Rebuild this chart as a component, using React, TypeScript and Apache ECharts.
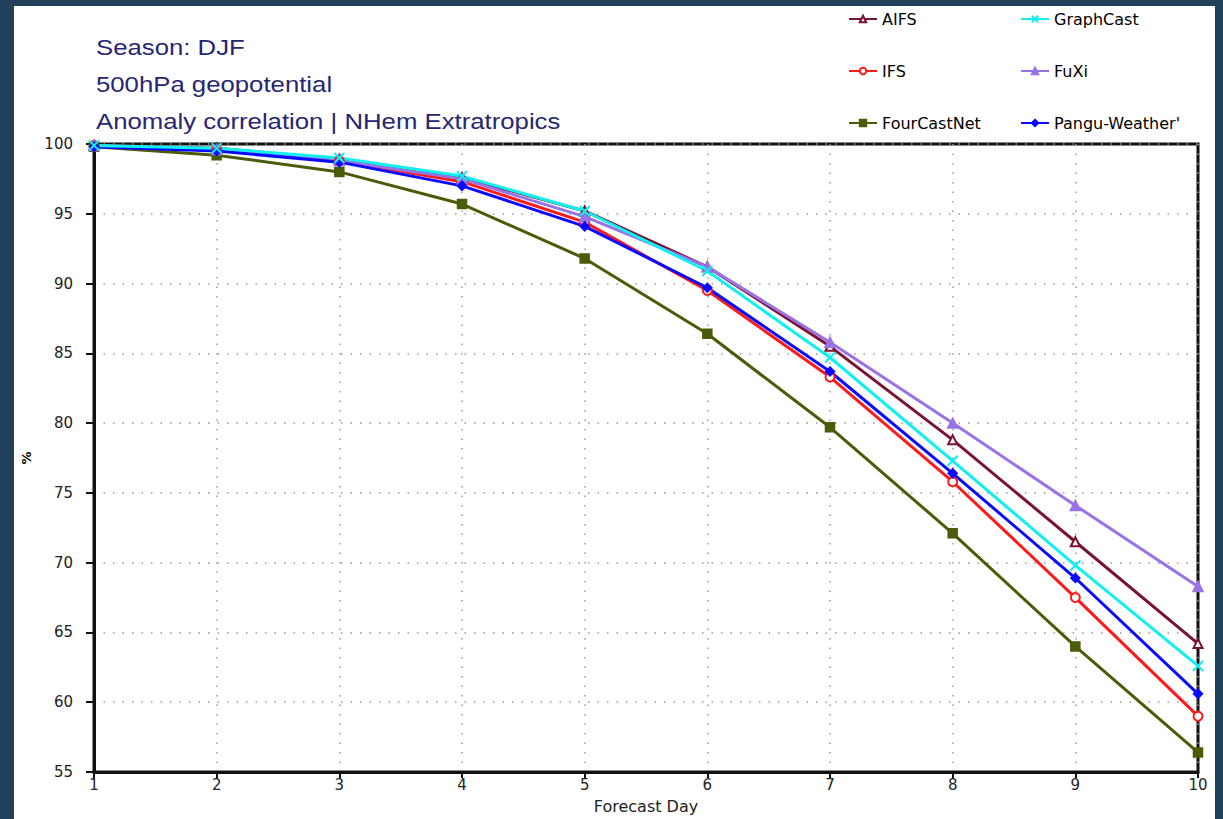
import React, { useEffect, useRef } from "react";
import * as echarts from "echarts";

const days = [1, 2, 3, 4, 5, 6, 7, 8, 9, 10];
const yTicks = [55, 60, 65, 70, 75, 80, 85, 90, 95, 100];
const aifs = [99.9, 99.7, 98.9, 97.6, 95.2, 91.2, 85.5, 78.8, 71.5, 64.2];
const graphCast = [99.9, 99.7, 99.0, 97.7, 95.2, 90.9, 84.7, 77.3, 69.8, 62.6];
const ifs = [99.9, 99.6, 98.8, 97.3, 94.4, 89.5, 83.3, 75.8, 67.5, 59.0];
const fuxi = [99.9, 99.6, 98.8, 97.5, 94.8, 91.2, 85.8, 80.0, 74.1, 68.3];
const fourCastNet = [99.8, 99.2, 98.0, 95.7, 91.8, 86.4, 79.7, 72.1, 64.0, 56.4];
const pangu = [99.8, 99.5, 98.7, 97.0, 94.1, 89.7, 83.7, 76.4, 68.9, 60.6];
const titleLines = ["Season: DJF", "500hPa geopotential", "Anomaly correlation | NHem Extratropics"];

const pair = (vals: number[]) => days.map((d, i) => [d, vals[i]]);

export default function App() {
  const ref = useRef<HTMLDivElement>(null);
  useEffect(() => {
    if (!ref.current) return;
    const chart = echarts.init(ref.current, null, { renderer: "svg" });
    const mk = (name: string, vals: number[], color: string, symbol: string, size: number, extra: any = {}) => ({
      name,
      type: "line",
      data: pair(vals),
      symbol,
      symbolSize: size,
      showSymbol: true,
      lineStyle: { color, width: 3 },
      itemStyle: { color, borderColor: color, borderWidth: 1.5, ...extra },
      emphasis: { disabled: true },
    });
    const legendText = { fontFamily: "DejaVu Sans", fontSize: 16, lineHeight: 16, color: "#000" };
    const legendCommon = {
      orient: "vertical",
      top: 6,
      itemWidth: 28,
      itemHeight: 8,
      itemGap: 36,
      textStyle: legendText,
    };
    chart.setOption({
      animation: false,
      backgroundColor: "transparent",
      graphic: titleLines.map((t, i) => ({
        type: "text",
        x: 96,
        y: 47 + i * 37,
        scaleX: 1.17,
        style: {
          text: t,
          fontFamily: "Liberation Sans",
          fontSize: 22,
          fill: "#262673",
          verticalAlign: "middle",
          align: "left",
        },
      })),
      legend: [
        { ...legendCommon, left: 843, data: ["AIFS", "IFS", "FourCastNet"] },
        { ...legendCommon, left: 1015, data: ["GraphCast", "FuXi", "Pangu-Weather'"] },
      ],
      grid: {
        left: 94,
        top: 144,
        width: 1104,
        height: 628,
        show: true,
        borderColor: "#111",
        borderWidth: 3,
        containLabel: false,
        outerBoundsMode: "none",
      },
      xAxis: {
        type: "value",
        min: 1,
        max: 10,
        interval: 1,
        name: "Forecast Day",
        nameLocation: "middle",
        nameGap: 26,
        nameTextStyle: { fontFamily: "DejaVu Sans", fontSize: 16, color: "#222" },
        axisLine: { lineStyle: { color: "#111", width: 3 } },
        axisTick: { show: true, inside: false, length: 6, lineStyle: { color: "#111", width: 2 } },
        axisLabel: { fontFamily: "DejaVu Sans", fontSize: 15, color: "#222", margin: 5 },
        splitLine: { show: true, lineStyle: { color: "#999", width: 1.5, type: [1.5, 8] } },
      },
      yAxis: {
        type: "value",
        min: 55,
        max: 100,
        interval: 5,
        name: "%",
        nameLocation: "middle",
        nameGap: 56,
        nameRotate: 90,
        nameTextStyle: { fontFamily: "DejaVu Sans", fontSize: 13, fontWeight: "bold", color: "#000" },
        axisLine: { lineStyle: { color: "#111", width: 3 } },
        axisTick: { show: true, inside: false, length: 8, lineStyle: { color: "#111", width: 2 } },
        axisLabel: {
          fontFamily: "DejaVu Sans",
          fontSize: 15,
          color: "#222",
          margin: 21,
          formatter: (v: number) => (yTicks.includes(v) ? String(v) : ""),
        },
        splitLine: { show: true, lineStyle: { color: "#999", width: 1.5, type: [1.5, 8] } },
      },
      series: [
        mk("AIFS", aifs, "#7a1232", "emptyTriangle", 9),
        mk("IFS", ifs, "#ff1a1a", "emptyCircle", 9),
        mk("FourCastNet", fourCastNet, "#4b5c08", "rect", 9),
        mk("FuXi", fuxi, "#9a72e8", "triangle", 10),
        mk("Pangu-Weather'", pangu, "#0a0aff", "diamond", 9),
        mk("GraphCast", graphCast, "#10f0f0", "path://M0,0L10,10M10,0L0,10", 10, { color: "none", borderWidth: 2 }),
      ],
    });
    return () => chart.dispose();
  }, []);
  return (
    <div style={{ position: "fixed", left: 0, top: 0, width: 1223, height: 819, background: "#21405a" }}>
      <div style={{ position: "absolute", left: 14, top: 6, width: 1201, height: 813, background: "#fff" }} />
      <div ref={ref} style={{ position: "absolute", left: 0, top: 0, width: 1223, height: 819 }} />
    </div>
  );
}
